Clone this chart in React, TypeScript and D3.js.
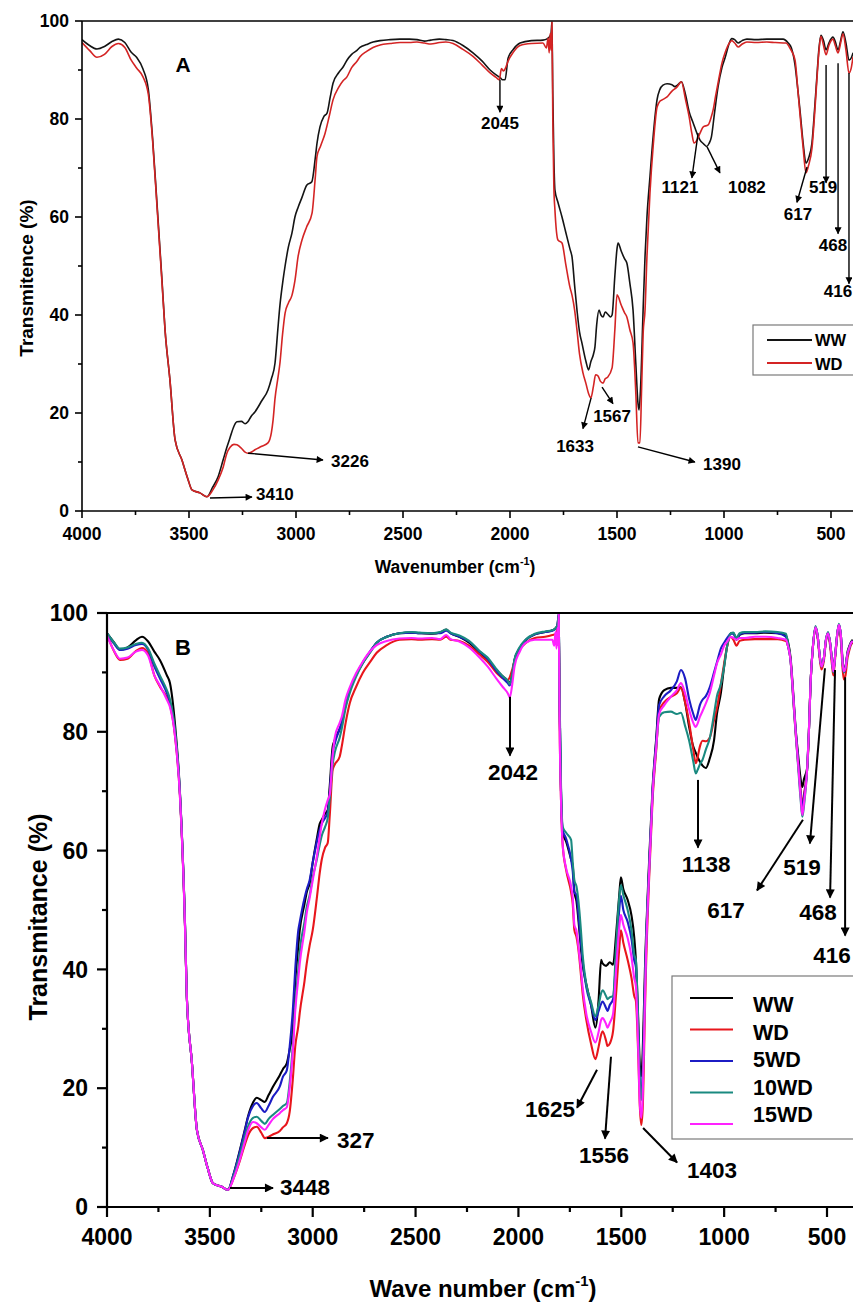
import React from 'react';
import * as d3 from 'd3';

type Pt = [number, number];

// ---------------- Panel A data (wavenumber cm-1, transmittance %) ----------------
const wwA: Pt[] = [[4000,96.2],[3965,95.0],[3930,94.3],[3895,94.8],[3860,95.8],[3830,96.3],[3800,95.6],[3770,93.6],[3745,92.6],[3715,90.2],[3690,86.0],[3670,76.0],[3650,63.0],[3626,47.0],[3612,37.0],[3589,26.7],[3565,14.5],[3533,10.4],[3505,6.5],[3486,4.3],[3449,3.7],[3416,2.9],[3390,4.8],[3364,7.0],[3340,10.5],[3323,13.0],[3308,15.0],[3290,17.3],[3276,18.2],[3255,18.3],[3238,17.8],[3225,18.2],[3210,19.3],[3192,20.2],[3160,22.5],[3131,24.7],[3115,27.0],[3098,30.2],[3085,37.0],[3075,42.0],[3061,47.0],[3051,50.0],[3035,54.0],[3019,56.7],[3005,60.0],[2990,62.0],[2972,64.0],[2950,66.5],[2926,67.2],[2910,72.0],[2902,75.0],[2888,78.4],[2870,80.5],[2855,81.2],[2840,84.5],[2827,87.3],[2800,89.5],[2780,90.6],[2762,92.0],[2740,93.2],[2715,94.0],[2701,94.6],[2670,95.2],[2640,95.7],[2607,96.0],[2560,96.2],[2514,96.3],[2470,96.3],[2435,96.2],[2400,95.9],[2370,96.1],[2330,96.3],[2300,96.2],[2266,96.0],[2220,95.0],[2173,93.5],[2130,91.8],[2093,90.0],[2065,89.0],[2045,88.4],[2035,88.0],[2023,88.0],[2009,92.4],[1985,94.2],[1953,95.5],[1900,96.0],[1846,96.1],[1825,96.4],[1815,96.8],[1808,97.5],[1804,99.8],[1800,85.0],[1795,72.0],[1790,65.5],[1776,63.0],[1757,60.0],[1740,57.0],[1720,53.5],[1710,51.8],[1698,46.0],[1687,41.0],[1675,36.5],[1664,34.3],[1645,30.5],[1633,28.8],[1622,30.5],[1610,32.0],[1603,33.5],[1595,38.0],[1584,41.0],[1575,40.0],[1565,39.6],[1555,40.6],[1544,40.2],[1530,39.6],[1523,40.0],[1510,48.0],[1500,53.5],[1495,54.7],[1480,53.0],[1465,51.5],[1454,50.6],[1440,46.5],[1425,41.0],[1412,30.0],[1402,22.0],[1397,20.6],[1390,25.0],[1378,41.0],[1369,52.0],[1360,60.0],[1346,68.2],[1330,77.0],[1313,83.9],[1300,86.0],[1285,86.9],[1266,87.2],[1243,87.0],[1230,86.6],[1215,87.0],[1199,87.6],[1180,85.0],[1163,81.5],[1144,79.2],[1121,76.5],[1112,75.7],[1097,75.0],[1081,74.4],[1070,75.0],[1059,76.3],[1045,81.0],[1028,86.5],[1009,90.6],[995,92.5],[975,95.5],[964,96.4],[950,96.2],[934,95.5],[915,96.0],[893,96.3],[850,96.2],[800,96.3],[760,96.3],[724,96.3],[700,95.5],[685,94.5],[668,91.0],[655,86.0],[645,81.8],[630,75.0],[617,71.0],[605,72.0],[589,75.1],[575,83.0],[566,88.6],[556,94.5],[547,97.1],[535,96.0],[523,94.1],[510,95.5],[491,96.7],[480,95.8],[467,94.1],[455,96.0],[444,97.8],[430,95.5],[416,92.0],[405,92.5],[397,93.5]];

const wdA: Pt[] = [[4000,95.6],[3965,94.0],[3930,92.6],[3895,93.2],[3860,94.8],[3830,95.4],[3800,94.6],[3770,92.0],[3745,90.4],[3715,88.6],[3690,85.0],[3670,75.5],[3650,62.5],[3626,46.5],[3612,37.0],[3589,26.7],[3565,14.5],[3533,10.4],[3505,6.5],[3486,4.3],[3449,3.7],[3416,2.9],[3390,4.2],[3364,6.3],[3340,9.0],[3323,11.8],[3308,13.0],[3290,13.6],[3276,13.5],[3255,12.8],[3238,12.0],[3225,11.8],[3210,12.0],[3192,12.5],[3160,13.2],[3131,13.9],[3115,16.0],[3107,18.6],[3098,23.0],[3085,27.0],[3075,30.2],[3063,36.0],[3051,40.4],[3035,42.5],[3019,44.0],[3005,47.0],[2990,52.0],[2972,55.3],[2950,58.0],[2925,60.8],[2910,68.0],[2902,72.3],[2885,74.5],[2864,77.1],[2845,80.5],[2827,83.9],[2800,86.5],[2780,87.8],[2762,88.6],[2740,90.5],[2715,91.8],[2701,92.7],[2670,93.8],[2640,94.6],[2607,95.1],[2560,95.4],[2514,95.6],[2470,95.6],[2435,95.7],[2400,95.5],[2370,95.3],[2330,95.6],[2300,95.7],[2266,95.4],[2220,94.2],[2173,92.8],[2130,91.0],[2093,89.4],[2065,88.5],[2050,88.0],[2040,90.3],[2030,89.8],[2020,90.5],[2009,91.8],[1985,93.6],[1953,95.0],[1900,95.4],[1846,95.5],[1830,94.5],[1822,96.5],[1817,93.5],[1812,97.5],[1808,94.0],[1804,99.8],[1800,80.0],[1795,66.0],[1790,61.4],[1776,55.3],[1757,54.7],[1740,50.5],[1720,45.7],[1710,44.0],[1698,41.0],[1687,36.9],[1675,32.0],[1659,28.2],[1645,26.0],[1633,24.0],[1622,23.1],[1610,25.5],[1600,27.8],[1589,27.6],[1578,26.5],[1565,26.1],[1555,27.0],[1544,27.3],[1523,29.2],[1510,37.0],[1500,44.1],[1480,42.0],[1465,40.5],[1454,39.6],[1440,37.0],[1425,34.3],[1412,24.0],[1402,13.9],[1393,13.9],[1385,25.0],[1378,36.0],[1369,41.0],[1360,52.0],[1346,64.9],[1330,75.0],[1313,82.4],[1300,83.6],[1285,84.0],[1266,84.5],[1243,85.7],[1220,86.5],[1199,87.6],[1180,84.0],[1163,80.5],[1150,77.0],[1140,75.1],[1125,75.8],[1112,77.1],[1097,78.4],[1074,78.8],[1059,80.5],[1051,81.8],[1040,84.5],[1028,87.3],[1009,91.5],[995,93.5],[975,95.5],[964,96.0],[950,95.5],[934,94.7],[915,95.3],[893,95.7],[850,95.6],[800,95.7],[760,95.6],[710,95.5],[690,94.3],[668,92.0],[655,86.0],[645,81.0],[630,74.0],[617,69.0],[605,70.5],[589,74.0],[575,82.0],[566,88.0],[556,94.0],[547,96.9],[535,95.0],[523,93.1],[510,95.0],[491,96.3],[480,95.0],[467,93.5],[455,95.5],[444,97.4],[430,94.0],[416,89.4],[405,90.5],[397,92.7]];

// ---------------- Panel B data ----------------
const wwB: Pt[] = [[4000,96.6],[3965,95.0],[3937,93.8],[3900,94.2],[3860,95.4],[3830,96.0],[3800,95.2],[3770,93.5],[3743,92.1],[3709,89.5],[3694,88.2],[3670,81.5],[3646,70.2],[3621,47.8],[3612,35.4],[3587,24.2],[3563,13.0],[3534,9.6],[3510,6.5],[3485,4.0],[3442,3.4],[3412,2.9],[3385,5.5],[3354,9.6],[3330,13.0],[3315,15.2],[3290,17.6],[3272,18.4],[3250,18.0],[3233,17.7],[3215,18.8],[3194,20.2],[3160,22.2],[3145,23.2],[3126,24.2],[3112,26.5],[3097,29.8],[3085,38.0],[3070,44.0],[3063,46.6],[3040,51.0],[3029,53.0],[3015,54.5],[3000,58.0],[2980,62.0],[2966,64.5],[2956,65.2],[2940,66.2],[2927,66.8],[2917,71.0],[2903,77.5],[2893,78.6],[2869,80.5],[2859,81.5],[2840,84.5],[2820,87.0],[2790,89.5],[2757,91.6],[2720,93.5],[2689,95.0],[2640,96.0],[2578,96.6],[2520,96.7],[2481,96.6],[2420,96.5],[2380,96.7],[2351,97.2],[2330,96.6],[2287,96.0],[2240,95.0],[2189,93.4],[2150,92.2],[2108,90.4],[2075,89.3],[2052,88.6],[2042,88.2],[2030,89.8],[2019,92.1],[1995,94.0],[1963,95.5],[1920,96.4],[1870,96.8],[1835,97.1],[1818,97.5],[1810,98.0],[1804,99.8],[1800,85.0],[1793,70.0],[1785,63.0],[1768,61.5],[1744,58.5],[1736,57.5],[1728,53.0],[1718,51.5],[1704,46.6],[1696,43.5],[1688,40.9],[1670,37.5],[1647,34.0],[1626,30.2],[1610,35.0],[1598,41.6],[1591,41.0],[1574,40.6],[1567,40.8],[1556,41.2],[1540,40.8],[1525,46.0],[1510,52.5],[1502,55.5],[1490,53.5],[1469,51.7],[1450,49.0],[1437,45.4],[1429,41.6],[1418,32.0],[1410,24.0],[1403,22.0],[1396,26.0],[1385,40.0],[1380,45.4],[1365,58.0],[1348,70.6],[1330,79.0],[1316,85.5],[1291,87.0],[1259,87.4],[1230,87.4],[1210,87.5],[1190,85.0],[1170,80.8],[1150,77.5],[1138,76.5],[1130,75.8],[1118,75.0],[1105,74.3],[1089,73.9],[1070,75.5],[1049,78.6],[1035,83.0],[1016,86.5],[1000,91.0],[985,94.5],[968,96.6],[955,96.6],[940,95.5],[925,96.3],[900,96.6],[850,96.6],[800,96.7],[740,96.6],[700,96.2],[690,95.2],[677,92.5],[665,87.0],[653,80.8],[640,76.0],[628,72.0],[620,70.7],[612,72.0],[596,74.0],[588,80.0],[580,88.2],[568,94.5],[556,97.6],[545,96.0],[536,93.0],[527,91.0],[515,92.5],[505,95.5],[495,96.6],[485,95.0],[475,92.0],[469,90.4],[460,93.0],[450,96.5],[442,98.0],[432,96.0],[424,92.0],[418,90.4],[410,91.0],[400,93.5],[393,94.3],[385,95.0],[375,95.5]];

const wdB: Pt[] = [[4000,96.4],[3965,93.5],[3937,92.1],[3900,92.3],[3860,93.6],[3830,94.1],[3800,93.2],[3770,89.5],[3743,87.6],[3709,85.8],[3694,84.5],[3670,79.5],[3646,69.5],[3621,47.5],[3612,35.4],[3587,24.2],[3563,13.0],[3534,9.6],[3510,6.5],[3485,4.0],[3442,3.4],[3412,2.9],[3385,4.8],[3354,7.8],[3330,10.5],[3315,12.0],[3290,13.3],[3272,13.5],[3250,12.5],[3233,11.6],[3215,11.8],[3194,12.2],[3160,12.8],[3145,13.4],[3126,14.1],[3112,16.0],[3097,21.4],[3085,27.0],[3070,30.5],[3063,32.7],[3040,38.0],[3029,41.0],[3015,44.0],[3000,46.6],[2980,52.0],[2966,56.2],[2956,58.5],[2940,60.5],[2927,61.3],[2917,66.0],[2903,73.6],[2893,74.5],[2869,75.8],[2859,77.5],[2840,81.5],[2820,84.8],[2790,87.5],[2757,89.9],[2720,91.8],[2689,93.3],[2640,94.6],[2578,95.5],[2520,95.6],[2481,95.5],[2420,95.6],[2380,95.5],[2351,96.0],[2330,95.5],[2287,95.3],[2240,94.5],[2189,93.0],[2150,91.8],[2108,90.0],[2075,89.0],[2052,88.7],[2042,89.2],[2030,90.5],[2019,92.0],[1995,93.8],[1963,95.0],[1920,95.8],[1870,96.0],[1835,96.3],[1818,96.5],[1810,97.5],[1804,99.5],[1800,82.0],[1793,68.5],[1785,61.0],[1768,56.7],[1744,53.0],[1736,51.0],[1728,46.6],[1718,45.5],[1704,42.0],[1696,39.0],[1688,36.0],[1670,31.5],[1647,27.5],[1626,24.9],[1610,27.0],[1598,29.0],[1591,29.6],[1574,28.0],[1567,27.1],[1556,27.5],[1540,29.6],[1525,36.0],[1510,43.5],[1502,46.6],[1490,44.5],[1469,41.6],[1450,38.5],[1437,35.5],[1429,34.7],[1418,26.0],[1410,17.0],[1403,13.8],[1396,16.5],[1385,33.0],[1380,40.0],[1365,55.0],[1348,68.5],[1330,77.0],[1316,83.5],[1291,85.0],[1259,85.9],[1230,86.5],[1210,87.4],[1190,85.0],[1170,81.5],[1150,77.0],[1138,74.7],[1130,75.5],[1118,77.5],[1105,78.5],[1089,78.4],[1070,79.0],[1049,82.0],[1035,84.0],[1016,88.0],[1000,91.5],[985,94.5],[968,96.0],[955,95.5],[940,94.5],[925,95.3],[900,95.5],[850,95.6],[800,95.6],[740,95.6],[700,95.3],[690,94.5],[677,92.0],[665,86.0],[653,80.0],[640,74.5],[628,70.0],[620,67.5],[612,69.5],[596,74.0],[588,80.0],[580,88.2],[568,94.5],[556,97.4],[545,95.6],[536,92.5],[527,90.5],[515,92.0],[505,95.2],[495,96.4],[485,94.5],[475,91.0],[469,89.5],[460,92.5],[450,96.2],[442,97.8],[432,95.0],[424,90.5],[418,88.8],[410,89.5],[400,92.5],[393,93.5],[385,94.5],[375,95.0]];

const wd5B: Pt[] = [[4000,96.6],[3965,94.8],[3937,93.8],[3900,94.0],[3860,94.6],[3830,94.8],[3800,93.8],[3770,91.0],[3743,89.0],[3709,86.5],[3694,85.0],[3670,80.0],[3646,70.0],[3621,47.8],[3612,35.4],[3587,24.2],[3563,13.0],[3534,9.6],[3510,6.5],[3485,4.0],[3442,3.4],[3412,2.9],[3385,5.5],[3354,9.4],[3330,12.8],[3315,15.0],[3290,17.0],[3272,17.5],[3250,16.6],[3233,16.0],[3215,17.0],[3194,18.5],[3160,20.3],[3145,21.9],[3126,23.0],[3112,27.0],[3097,33.0],[3085,40.0],[3070,46.6],[3063,48.0],[3040,52.0],[3029,53.5],[3015,55.0],[3000,58.0],[2980,61.5],[2966,63.5],[2956,64.5],[2940,65.5],[2927,66.5],[2917,70.0],[2903,76.5],[2893,78.0],[2869,80.5],[2859,81.5],[2840,84.5],[2820,87.0],[2790,89.5],[2757,91.6],[2720,93.6],[2689,95.0],[2640,96.0],[2578,96.6],[2520,96.7],[2481,96.6],[2420,96.6],[2380,96.6],[2351,97.0],[2330,96.6],[2287,96.0],[2240,95.2],[2189,93.5],[2150,92.3],[2108,90.3],[2075,89.0],[2052,88.2],[2042,87.8],[2030,89.5],[2019,92.0],[1995,94.0],[1963,95.5],[1920,96.4],[1870,96.8],[1835,97.0],[1818,97.4],[1810,98.0],[1804,99.8],[1800,85.0],[1793,70.0],[1785,63.5],[1768,62.0],[1744,58.5],[1736,56.5],[1728,53.0],[1718,52.5],[1704,47.5],[1696,44.5],[1688,41.5],[1670,37.0],[1647,34.0],[1626,31.5],[1610,33.0],[1598,34.2],[1591,34.6],[1574,33.5],[1567,33.0],[1556,34.0],[1540,35.0],[1525,42.0],[1510,50.0],[1502,52.4],[1490,50.0],[1469,48.0],[1450,45.0],[1437,41.5],[1429,40.4],[1418,30.0],[1410,21.0],[1403,19.0],[1396,22.5],[1385,38.0],[1380,44.0],[1365,57.0],[1348,70.0],[1330,78.5],[1316,84.5],[1291,86.0],[1259,87.0],[1230,88.5],[1210,90.4],[1190,89.0],[1170,85.5],[1150,83.0],[1138,82.0],[1130,82.8],[1118,84.5],[1105,85.4],[1089,86.0],[1070,87.5],[1049,90.0],[1035,91.7],[1016,94.0],[1000,95.0],[985,95.8],[968,96.5],[955,96.5],[940,95.6],[925,96.4],[900,96.7],[850,96.7],[800,96.8],[740,96.6],[700,96.0],[690,94.5],[677,92.0],[665,86.5],[653,80.5],[640,75.0],[628,69.5],[620,67.0],[612,69.0],[596,74.0],[588,80.0],[580,88.2],[568,94.5],[556,97.6],[545,96.0],[536,93.0],[527,91.0],[515,92.5],[505,95.5],[495,96.6],[485,95.0],[475,91.8],[469,90.2],[460,93.0],[450,96.5],[442,98.0],[432,96.0],[424,91.5],[418,90.0],[410,90.8],[400,93.2],[393,94.0],[385,94.8],[375,95.3]];

const wd10B: Pt[] = [[4000,96.6],[3965,95.0],[3937,94.0],[3900,94.2],[3860,94.8],[3830,95.0],[3800,94.0],[3770,91.5],[3743,89.5],[3709,87.0],[3694,85.5],[3670,80.5],[3646,70.0],[3621,47.8],[3612,35.4],[3587,24.2],[3563,13.0],[3534,9.6],[3510,6.5],[3485,4.0],[3442,3.4],[3412,2.9],[3385,5.2],[3354,8.8],[3330,11.8],[3315,13.5],[3290,15.0],[3272,15.2],[3250,14.5],[3233,14.0],[3215,14.8],[3194,15.5],[3160,16.5],[3145,17.0],[3126,17.5],[3112,21.0],[3097,27.0],[3085,34.0],[3070,40.0],[3063,43.0],[3040,48.0],[3029,50.5],[3015,52.5],[3000,55.5],[2980,58.5],[2966,61.0],[2956,62.5],[2940,64.0],[2927,65.5],[2917,69.0],[2903,74.5],[2893,76.5],[2869,79.0],[2859,80.5],[2840,84.0],[2820,86.5],[2790,89.2],[2757,91.5],[2720,93.4],[2689,95.0],[2640,96.0],[2578,96.6],[2520,96.8],[2481,96.7],[2420,96.6],[2380,96.8],[2351,97.2],[2330,96.7],[2287,96.2],[2240,95.3],[2189,93.6],[2150,92.5],[2108,90.6],[2075,89.3],[2052,88.6],[2042,88.0],[2030,89.8],[2019,92.2],[1995,94.2],[1963,95.6],[1920,96.5],[1870,96.9],[1835,97.1],[1818,97.5],[1810,98.0],[1804,99.8],[1800,86.0],[1793,71.0],[1785,64.0],[1768,63.0],[1744,61.8],[1736,58.0],[1728,55.0],[1718,54.0],[1704,50.0],[1696,46.5],[1688,42.5],[1670,37.5],[1647,34.5],[1626,32.1],[1610,34.0],[1598,36.0],[1591,36.5],[1574,35.5],[1567,35.0],[1556,35.3],[1540,35.5],[1525,44.0],[1510,52.0],[1502,54.2],[1490,52.5],[1469,50.0],[1450,46.5],[1437,42.5],[1429,41.6],[1418,31.0],[1410,21.0],[1403,18.0],[1396,21.5],[1385,37.0],[1380,43.5],[1365,56.5],[1348,69.5],[1330,77.5],[1316,82.5],[1291,83.3],[1259,83.4],[1230,83.0],[1210,83.2],[1190,81.0],[1170,78.5],[1150,75.0],[1138,73.0],[1130,73.5],[1118,74.5],[1105,75.3],[1089,77.0],[1070,78.9],[1049,83.0],[1035,86.0],[1016,88.0],[1000,91.0],[985,94.5],[968,96.6],[955,96.7],[940,95.8],[925,96.6],[900,96.8],[850,96.8],[800,96.9],[740,96.8],[700,96.5],[690,95.0],[677,92.0],[665,86.0],[653,80.0],[640,74.0],[628,68.5],[620,65.7],[612,67.5],[596,74.0],[588,80.0],[580,88.2],[568,94.5],[556,97.8],[545,96.0],[536,93.0],[527,91.0],[515,92.5],[505,95.5],[495,96.8],[485,95.0],[475,91.8],[469,90.0],[460,93.0],[450,96.5],[442,98.2],[432,96.0],[424,91.5],[418,90.0],[410,90.8],[400,93.2],[393,94.0],[385,94.8],[375,95.3]];

const wd15B: Pt[] = [[4000,96.2],[3965,93.6],[3937,92.3],[3900,92.5],[3860,93.5],[3830,93.8],[3800,92.8],[3770,89.5],[3743,87.8],[3709,85.4],[3694,84.2],[3670,79.5],[3646,69.5],[3621,47.5],[3612,35.4],[3587,24.2],[3563,13.0],[3534,9.6],[3510,6.5],[3485,4.0],[3442,3.4],[3412,2.9],[3385,4.8],[3354,8.0],[3330,11.0],[3315,12.8],[3290,14.3],[3272,14.1],[3250,13.4],[3233,13.0],[3215,13.8],[3194,14.8],[3160,15.8],[3145,16.3],[3126,16.8],[3112,20.0],[3097,26.0],[3085,33.0],[3070,38.5],[3063,41.0],[3040,46.5],[3029,49.5],[3015,52.0],[3000,55.0],[2980,59.0],[2966,62.3],[2956,64.5],[2940,67.0],[2927,68.5],[2917,69.5],[2903,76.0],[2893,79.0],[2869,81.5],[2859,82.5],[2840,85.5],[2820,87.5],[2790,89.8],[2757,91.8],[2720,93.6],[2689,94.6],[2640,95.3],[2578,95.7],[2520,95.8],[2481,95.7],[2420,95.8],[2380,95.6],[2351,96.3],[2330,95.6],[2287,95.2],[2240,94.2],[2189,92.5],[2150,91.0],[2108,89.0],[2075,87.5],[2052,86.5],[2042,85.8],[2030,88.0],[2019,91.0],[1995,93.4],[1963,95.0],[1920,95.5],[1870,95.5],[1835,95.5],[1826,94.5],[1820,96.8],[1815,94.0],[1810,97.5],[1807,94.5],[1804,99.8],[1800,82.0],[1793,68.5],[1785,61.0],[1768,57.0],[1744,54.0],[1736,52.0],[1728,47.5],[1718,46.5],[1704,42.5],[1696,40.0],[1688,37.0],[1670,32.5],[1647,29.5],[1626,27.7],[1610,29.5],[1598,31.5],[1591,31.8],[1574,30.8],[1567,30.2],[1556,31.0],[1540,32.5],[1525,40.0],[1510,47.0],[1502,49.2],[1490,47.5],[1469,45.3],[1450,42.0],[1437,38.5],[1429,37.2],[1418,27.0],[1410,17.5],[1403,15.0],[1396,18.5],[1385,35.0],[1380,42.0],[1365,56.0],[1348,69.5],[1330,77.5],[1316,83.0],[1291,84.5],[1259,85.9],[1230,87.0],[1210,88.2],[1190,86.5],[1170,83.7],[1150,81.5],[1138,80.8],[1130,81.3],[1118,82.5],[1105,83.5],[1089,84.8],[1070,86.5],[1049,89.5],[1035,91.5],[1016,93.0],[1000,94.5],[985,95.2],[968,96.0],[955,95.8],[940,95.5],[925,95.8],[900,95.8],[850,96.0],[800,96.0],[740,95.8],[700,95.5],[690,94.5],[677,92.0],[665,86.5],[653,80.3],[640,74.5],[628,69.0],[620,66.0],[612,68.0],[596,74.0],[588,80.0],[580,88.2],[568,94.5],[556,97.6],[545,96.0],[536,93.0],[527,91.0],[515,92.5],[505,95.5],[495,96.6],[485,95.0],[475,91.8],[469,90.2],[460,93.0],[450,96.5],[442,98.0],[432,96.0],[424,91.5],[418,90.2],[410,90.8],[400,93.2],[393,94.0],[385,94.8],[375,95.3]];

// ---------------- ticks ----------------
const xMajorTicks = [4000, 3500, 3000, 2500, 2000, 1500, 1000, 500];
const xMinorTicks = [3750, 3250, 2750, 2250, 1750, 1250, 750];
const yMajorTicks = [0, 20, 40, 60, 80, 100];
const yMinorTicks = [10, 30, 50, 70, 90];

// ---------------- annotations (data coordinates) ----------------
type Ann = { label: string; from: Pt; to: Pt; at: Pt; anchor: 'start' | 'middle' | 'end' };
const annotationsA: Ann[] = [
  { label: '2045', from: [2047, 88.0], to: [2047, 81.4], at: [2047, 78.0], anchor: 'middle' },
  { label: '1121', from: [1121, 77.1], to: [1150, 68.0], at: [1206, 64.9], anchor: 'middle' },
  { label: '1082', from: [1079, 74.3], to: [1019, 69.0], at: [893, 64.9], anchor: 'middle' },
  { label: '617', from: [612, 70.2], to: [659, 63.0], at: [654, 59.4], anchor: 'middle' },
  { label: '519', from: [523, 91.0], to: [523, 67.0], at: [537, 64.9], anchor: 'middle' },
  { label: '468', from: [467, 91.4], to: [467, 56.6], at: [491, 53.1], anchor: 'middle' },
  { label: '416', from: [416, 89.4], to: [416, 46.4], at: [401, 43.7], anchor: 'end' },
  { label: '1633', from: [1621, 23.1], to: [1659, 16.8], at: [1696, 12.0], anchor: 'middle' },
  { label: '1567', from: [1570, 25.3], to: [1519, 21.9], at: [1523, 18.2], anchor: 'middle' },
  { label: '1390', from: [1402, 13.1], to: [1136, 10.0], at: [1098, 8.4], anchor: 'start' },
  { label: '3410', from: [3402, 2.65], to: [3206, 2.85], at: [3187, 2.2], anchor: 'start' },
  { label: '3226', from: [3224, 11.8], to: [2874, 10.4], at: [2836, 9.0], anchor: 'start' },
];
const annotationsB: Ann[] = [
  { label: '2042', from: [2041, 85.9], to: [2041, 76.0], at: [2026, 71.9], anchor: 'middle' },
  { label: '1138', from: [1127, 71.9], to: [1127, 60.5], at: [1088, 56.4], anchor: 'middle' },
  { label: '617', from: [617, 65.2], to: [840, 53.3], at: [991, 48.7], anchor: 'middle' },
  { label: '519', from: [510, 90.7], to: [583, 61.2], at: [622, 55.9], anchor: 'middle' },
  { label: '468', from: [461, 90.4], to: [485, 52.1], at: [544, 48.3], anchor: 'middle' },
  { label: '416', from: [412, 89.2], to: [412, 45.7], at: [476, 41.1], anchor: 'middle' },
  { label: '1625', from: [1618, 23.1], to: [1715, 16.7], at: [1846, 15.2], anchor: 'middle' },
  { label: '1556', from: [1550, 25.3], to: [1579, 11.5], at: [1584, 7.4], anchor: 'middle' },
  { label: '1403', from: [1394, 13.3], to: [1229, 7.5], at: [1181, 4.9], anchor: 'start' },
  { label: '327', from: [3222, 11.6], to: [2926, 11.6], at: [2882, 9.9], anchor: 'start' },
  { label: '3448', from: [3402, 3.2], to: [3193, 3.2], at: [3159, 2.0], anchor: 'start' },
];

type Series = { name: string; data: Pt[]; color: string };
const seriesA: Series[] = [
  { name: 'WW', data: wwA, color: '#141414' },
  { name: 'WD', data: wdA, color: '#d42424' },
];
const seriesB: Series[] = [
  { name: 'WW', data: wwB, color: '#000000' },
  { name: 'WD', data: wdB, color: '#e8161c' },
  { name: '5WD', data: wd5B, color: '#1c1cc4' },
  { name: '10WD', data: wd10B, color: '#1a8a80' },
  { name: '15WD', data: wd15B, color: '#ff22ff' },
];

const FONT = '"Liberation Sans", Arial, Helvetica, sans-serif';

type PanelCfg = {
  id: string;
  letter: string;
  letterAt: Pt;
  letterSize: number;
  series: Series[];
  ann: Ann[];
  left: number; x500: number; right: number; top: number; bottom: number;
  axisW: number; lineW: number; arrowW: number; head: [number, number];
  tickFont: number; annFont: number;
  majorLen: number; minorLen: number;
  xLabelDy: number; yLabelDx: number;
  xTitle: string; xTitleAt: [number, number]; xTitleSize: number;
  yTitle: string; yTitleAt: [number, number]; yTitleSize: number;
  legend: { x: number; y: number; w: number; h: number; lx1: number; lx2: number; tx: number; ly0: number; ldy: number; ty0: number; tdy: number; font: number; lw: number };
};

function Panel({ c }: { c: PanelCfg }) {
  const x = d3.scaleLinear().domain([4000, 500]).range([c.left, c.x500]);
  const y = d3.scaleLinear().domain([0, 100]).range([c.bottom, c.top]);
  const line = d3.line<Pt>().x(d => x(d[0])).y(d => y(d[1])).curve(d3.curveMonotoneX);
  const clipId = `clip-${c.id}`;
  const mk = `arrow-${c.id}`;
  return (
    <g>
      <defs>
        <clipPath id={clipId}>
          <rect x={c.left} y={c.top - 2} width={c.right - c.left} height={c.bottom - c.top + 2} />
        </clipPath>
        <marker id={mk} viewBox="0 0 10 10" refX={9} refY={5} markerUnits="userSpaceOnUse"
          markerWidth={c.head[0]} markerHeight={c.head[1]} orient="auto">
          <path d="M0,0 L10,5 L0,10 Z" fill="#000" />
        </marker>
      </defs>
      {/* spectra */}
      <g clipPath={`url(#${clipId})`}>
        {c.series.map(s => (
          <path key={s.name} d={line(s.data) || ''} fill="none" stroke={s.color}
            strokeWidth={c.lineW} strokeLinejoin="round" />
        ))}
      </g>
      {/* frame */}
      <line x1={c.left} x2={c.right} y1={c.top} y2={c.top} stroke="#000" strokeWidth={c.axisW} />
      <line x1={c.left} x2={c.right} y1={c.bottom} y2={c.bottom} stroke="#000" strokeWidth={c.axisW} />
      <line x1={c.left} x2={c.left} y1={c.top} y2={c.bottom} stroke="#000" strokeWidth={c.axisW} />
      {/* x ticks */}
      {xMajorTicks.map(t => (
        <g key={'xm' + t}>
          <line x1={x(t)} x2={x(t)} y1={c.bottom} y2={c.bottom + c.majorLen} stroke="#000" strokeWidth={c.axisW} />
          <text x={x(t)} y={c.bottom + c.xLabelDy} textAnchor="middle" fontFamily={FONT}
            fontWeight="bold" fontSize={c.tickFont}>{t}</text>
        </g>
      ))}
      {xMinorTicks.map(t => (
        <line key={'xn' + t} x1={x(t)} x2={x(t)} y1={c.bottom} y2={c.bottom + c.minorLen} stroke="#000" strokeWidth={c.axisW} />
      ))}
      {/* y ticks */}
      {yMajorTicks.map(t => (
        <g key={'ym' + t}>
          <line x1={c.left - c.majorLen} x2={c.left} y1={y(t)} y2={y(t)} stroke="#000" strokeWidth={c.axisW} />
          <text x={c.left - c.yLabelDx} y={y(t)} dy="0.36em" textAnchor="end" fontFamily={FONT}
            fontWeight="bold" fontSize={c.tickFont}>{t}</text>
        </g>
      ))}
      {yMinorTicks.map(t => (
        <line key={'yn' + t} x1={c.left - c.minorLen} x2={c.left} y1={y(t)} y2={y(t)} stroke="#000" strokeWidth={c.axisW} />
      ))}
      {/* axis titles */}
      <text x={c.xTitleAt[0]} y={c.xTitleAt[1]} textAnchor="middle" fontFamily={FONT} fontWeight="bold"
        fontSize={c.xTitleSize}>
        {c.xTitle}
        <tspan fontSize={c.xTitleSize * 0.62} dy={-c.xTitleSize * 0.45}>-1</tspan>
        <tspan dy={c.xTitleSize * 0.45}>)</tspan>
      </text>
      <text transform={`translate(${c.yTitleAt[0]},${c.yTitleAt[1]}) rotate(-90)`} textAnchor="middle"
        fontFamily={FONT} fontWeight="bold" fontSize={c.yTitleSize}>{c.yTitle}</text>
      {/* panel letter */}
      <text x={x(c.letterAt[0])} y={y(c.letterAt[1])} textAnchor="middle" fontFamily={FONT}
        fontWeight="bold" fontSize={c.letterSize}>{c.letter}</text>
      {/* annotations */}
      {c.ann.map(a => (
        <g key={a.label + a.from[0]}>
          <line x1={x(a.from[0])} y1={y(a.from[1])} x2={x(a.to[0])} y2={y(a.to[1])} stroke="#000"
            strokeWidth={c.arrowW} markerEnd={`url(#${mk})`} />
          <text x={x(a.at[0])} y={y(a.at[1])} textAnchor={a.anchor} fontFamily={FONT} fontWeight="bold"
            fontSize={c.annFont}>{a.label}</text>
        </g>
      ))}
      {/* legend */}
      <rect x={c.legend.x} y={c.legend.y} width={c.legend.w} height={c.legend.h} fill="#fff"
        stroke="#7a7a7a" strokeWidth={1.2} />
      {c.series.map((s, i) => (
        <g key={'lg' + s.name}>
          <line x1={c.legend.lx1} x2={c.legend.lx2} y1={c.legend.ly0 + i * c.legend.ldy}
            y2={c.legend.ly0 + i * c.legend.ldy} stroke={s.color} strokeWidth={c.legend.lw} />
          <text x={c.legend.tx} y={c.legend.ty0 + i * c.legend.tdy} fontFamily={FONT} fontWeight="bold"
            fontSize={c.legend.font}>{s.name}</text>
        </g>
      ))}
    </g>
  );
}

const cfgA: PanelCfg = {
  id: 'A', letter: 'A', letterAt: [3528, 89.5], letterSize: 21,
  series: seriesA, ann: annotationsA,
  left: 82, x500: 831, right: 853, top: 21, bottom: 511,
  axisW: 1.6, lineW: 1.6, arrowW: 1.4, head: [10, 7],
  tickFont: 17.5, annFont: 17,
  majorLen: 7, minorLen: 4,
  xLabelDy: 29, yLabelDx: 13,
  xTitle: 'Wavenumber (cm', xTitleAt: [455, 573], xTitleSize: 17.5,
  yTitle: 'Transmitence (%)', yTitleAt: [33, 278], yTitleSize: 19,
  legend: { x: 753, y: 325, w: 110, h: 50, lx1: 767, lx2: 812, tx: 815, ly0: 340, ldy: 23, ty0: 346, tdy: 23.5, font: 16.5, lw: 1.8 },
};

const cfgB: PanelCfg = {
  id: 'B', letter: 'B', letterAt: [3631, 92.9], letterSize: 22,
  series: seriesB, ann: annotationsB,
  left: 107, x500: 827, right: 853, top: 613, bottom: 1207,
  axisW: 2.2, lineW: 2.1, arrowW: 2, head: [12, 9],
  tickFont: 23, annFont: 22.5,
  majorLen: 10, minorLen: 5,
  xLabelDy: 38, yLabelDx: 19,
  xTitle: 'Wave number (cm', xTitleAt: [483, 1297], xTitleSize: 24,
  yTitle: 'Transmitance (%)', yTitleAt: [47, 917], yTitleSize: 25,
  legend: { x: 672, y: 976, w: 190, h: 163, lx1: 690, lx2: 733, tx: 753, ly0: 998, ldy: 31.5, ty0: 1012, tdy: 27.5, font: 21.5, lw: 2.2 },
};

export default function App() {
  return (
    <svg width={853} height={1302} viewBox="0 0 853 1302"
      style={{ position: 'absolute', left: 0, top: 0, background: '#fff', display: 'block' }}>
      <rect x={0} y={0} width={853} height={1302} fill="#fff" />
      <Panel c={cfgA} />
      <Panel c={cfgB} />
    </svg>
  );
}
